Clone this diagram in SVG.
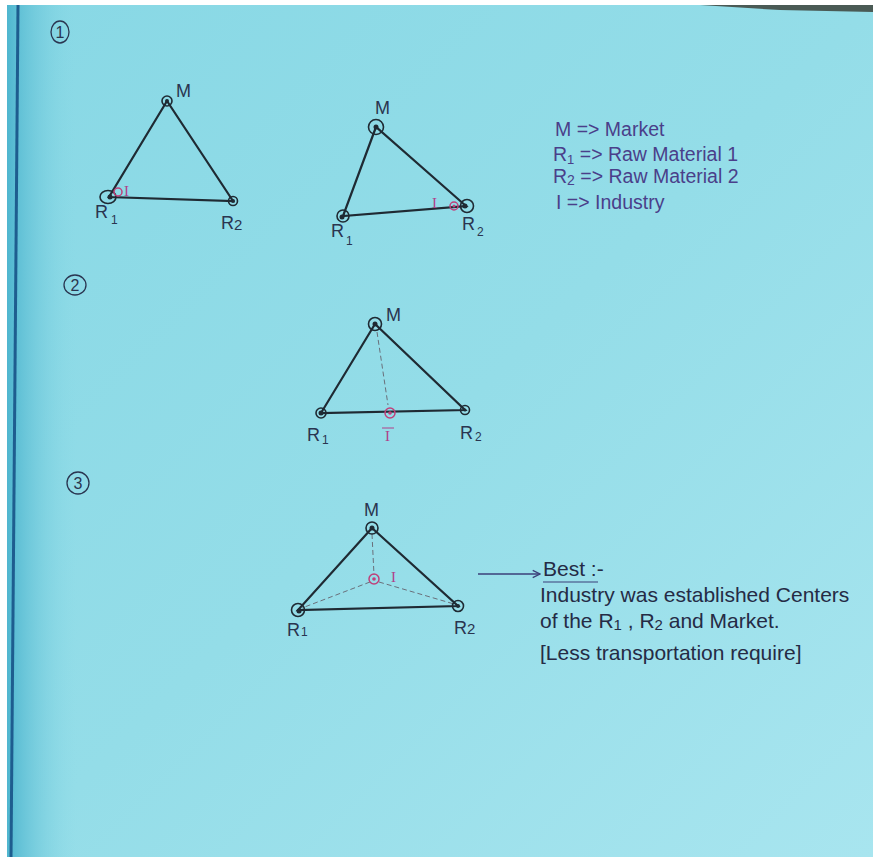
<svg xmlns="http://www.w3.org/2000/svg" width="873" height="858" viewBox="0 0 873 858">
<defs>
<linearGradient id="paper" x1="0" y1="0" x2="1" y2="1">
<stop offset="0" stop-color="#88d8e5"/>
<stop offset="0.5" stop-color="#94dde8"/>
<stop offset="1" stop-color="#a8e5ef"/>
</linearGradient>
<linearGradient id="edge" x1="0" y1="0" x2="1" y2="0">
<stop offset="0" stop-color="#4fb6cf"/>
<stop offset="1" stop-color="#88d8e5" stop-opacity="0"/>
</linearGradient>
<marker id="ah" viewBox="0 0 10 10" refX="9" refY="5" markerWidth="7" markerHeight="7" orient="auto">
<path d="M1,1 L9,5 L1,9" fill="none" stroke="#3b3f78" stroke-width="1.5"/>
</marker>
<style>
.ln{stroke:#1f2a33;stroke-width:2.2;fill:none;stroke-linecap:round}
.dash{stroke:#6a6f7a;stroke-width:1;fill:none;stroke-dasharray:5 3}
.ring{stroke:#1f2a33;stroke-width:1.6;fill:none}
.dot{fill:#1f2a33}
.pring{stroke:#c0407a;stroke-width:1.5;fill:none}
.pdot{fill:#c0407a}
.lbl{font-family:"Liberation Sans",Arial,sans-serif;font-size:18px;fill:#2a3550}
.sub{font-size:12px}
.pl{font-family:"Liberation Serif",serif;font-size:15px;fill:#b0408a}
.num{font-family:"Liberation Sans",Arial,sans-serif;font-size:16px;fill:#2a3550;text-anchor:middle}
.leg{font-family:"Liberation Sans",Arial,sans-serif;font-size:19.5px;fill:#4a3f8a}
.note{font-family:"Liberation Sans",Arial,sans-serif;font-size:21px;fill:#252b45}
</style>
</defs>
<rect width="873" height="858" fill="#ffffff"/>
<rect x="7" y="5" width="866" height="852" fill="url(#paper)"/>
<rect x="7" y="5" width="70" height="852" fill="url(#edge)"/>
<path d="M700,5 L873,5 L873,12 L780,10 Z" fill="#4a5a55"/>
<path d="M18,5 L11,857" stroke="#1e5d8f" stroke-width="3" fill="none"/>

<g id="section-labels">
<ellipse cx="60" cy="32" rx="9" ry="11" fill="none" stroke="#2a3550" stroke-width="1.3"/><text class="num" x="60" y="38">1</text>
<ellipse cx="75" cy="285" rx="11" ry="10" fill="none" stroke="#2a3550" stroke-width="1.3"/><text class="num" x="75" y="291">2</text>
<ellipse cx="78" cy="483" rx="11" ry="11" fill="none" stroke="#2a3550" stroke-width="1.3"/><text class="num" x="78" y="489">3</text>
</g>

<g id="connectors">
<path class="ln" d="M167,101 L109,197 L233,201 Z"/>
<path class="ln" d="M376,127 Q360,170 343,216 L466,206 Z"/>
<path class="ln" d="M375,324 L321,413 L465,410 Z"/>
<path class="dash" d="M377,332 L388,405"/>
<path class="ln" d="M372,528 L298,610 L458,606 Z"/>
<path class="dash" d="M372,534 L374,575 M370,582 L302,608 M379,582 L454,604"/>
<path d="M478,574 L540,574" stroke="#3b3f78" stroke-width="1.3" fill="none" marker-end="url(#ah)"/>
</g>

<g id="d1-M"><circle class="ring" cx="167" cy="101" r="5"/><circle class="dot" cx="167" cy="101" r="2"/><text class="lbl" x="176" y="97" font-size="14">M</text></g>
<g id="d1-R1"><ellipse class="ring" cx="108" cy="197" rx="8" ry="6.5"/><circle class="dot" cx="110" cy="197" r="2.5"/><text class="lbl" x="95" y="218">R<tspan class="sub" dx="3" dy="6">1</tspan></text></g>
<g id="d1-R2"><circle class="ring" cx="233" cy="201" r="4.5"/><circle class="dot" cx="233" cy="201" r="2"/><text class="lbl" x="221" y="229">R<tspan dy="1" font-size="15">2</tspan></text></g>
<g id="d1-I"><circle class="pring" cx="118" cy="192" r="4"/><text class="pl" x="124" y="196">I</text></g>

<g id="d2-M"><circle class="ring" cx="376" cy="127" r="7.5"/><circle class="dot" cx="376" cy="127" r="2.5"/><text class="lbl" x="375" y="114" font-size="15">M</text></g>
<g id="d2-R1"><circle class="ring" cx="343" cy="216" r="6"/><circle class="dot" cx="342" cy="217" r="2.5"/><text class="lbl" x="331" y="237">R<tspan class="sub" dx="2" dy="8">1</tspan></text></g>
<g id="d2-R2"><circle class="ring" cx="467" cy="206" r="6.5"/><circle class="dot" cx="465" cy="206" r="2.5"/><text class="lbl" x="462" y="230">R<tspan class="sub" dx="2" dy="6">2</tspan></text></g>
<g id="d2-I"><circle class="pring" cx="454" cy="206" r="4"/><circle class="pdot" cx="454" cy="206" r="1.5"/><text class="pl" x="432" y="208" fill="#8a4a80">I</text></g>

<g id="legend">
<text class="leg" x="555" y="136">M =&gt; Market</text>
<text class="leg" x="553" y="161">R<tspan font-size="13" dy="3">1</tspan><tspan dy="-3"> =&gt; Raw Material 1</tspan></text>
<text class="leg" x="553" y="183">R<tspan font-size="14" dy="2">2</tspan><tspan dy="-2"> =&gt; Raw Material 2</tspan></text>
<text class="leg" x="556" y="209">I  =&gt; Industry</text>
</g>

<g id="d3-M"><circle class="ring" cx="375" cy="324" r="6.5"/><circle class="dot" cx="375" cy="324" r="2.5"/><text class="lbl" x="386" y="321" font-size="16">M</text></g>
<g id="d3-R1"><circle class="ring" cx="321" cy="413" r="5"/><circle class="dot" cx="321" cy="413" r="2.5"/><text class="lbl" x="307" y="441">R<tspan class="sub" dx="2" dy="3">1</tspan></text></g>
<g id="d3-R2"><circle class="ring" cx="465" cy="410" r="4.5"/><circle class="dot" cx="465" cy="410" r="1.5"/><text class="lbl" x="460" y="439">R<tspan class="sub" dx="2" dy="2">2</tspan></text></g>
<g id="d3-I"><circle class="pring" cx="390" cy="413" r="5"/><circle class="pdot" cx="390" cy="413" r="1.8"/><text class="pl" x="385" y="441">I</text><path d="M382,428 L394,428" stroke="#b0408a" stroke-width="1"/></g>

<g id="d4-M"><circle class="ring" cx="372" cy="528" r="6"/><circle class="dot" cx="372" cy="528" r="2.5"/><text class="lbl" x="364" y="516" font-size="15">M</text></g>
<g id="d4-R1"><circle class="ring" cx="298" cy="610" r="6.5"/><circle class="dot" cx="299" cy="611" r="2.5"/><text class="lbl" x="287" y="636">R<tspan class="sub" dx="1" font-size="14">1</tspan></text></g>
<g id="d4-R2"><circle class="ring" cx="458" cy="606" r="5.5"/><circle class="dot" cx="458" cy="606" r="2"/><text class="lbl" x="454" y="634">R<tspan font-size="15">2</tspan></text></g>
<g id="d4-I"><circle class="pring" cx="374" cy="579" r="5"/><circle class="pdot" cx="374" cy="579" r="1.8"/><text class="pl" x="391" y="582" fill="#3a3f70">I</text></g>

<g id="note">
<text class="note" x="543" y="576" fill="#a04a8a">Best<tspan fill="#252b45"> :-</tspan></text>
<path d="M543,582 L598,582" stroke="#3b3f78" stroke-width="1.2"/>
<text class="note" x="540" y="602">Industry was established Centers</text>
<text class="note" x="540" y="628">of the R<tspan font-size="15" dy="2">1</tspan><tspan dy="-2"> , R</tspan><tspan font-size="15" dy="2">2</tspan><tspan dy="-2"> and Market.</tspan></text>
<text class="note" x="540" y="660">[Less transportation require]</text>
</g>
</svg>
